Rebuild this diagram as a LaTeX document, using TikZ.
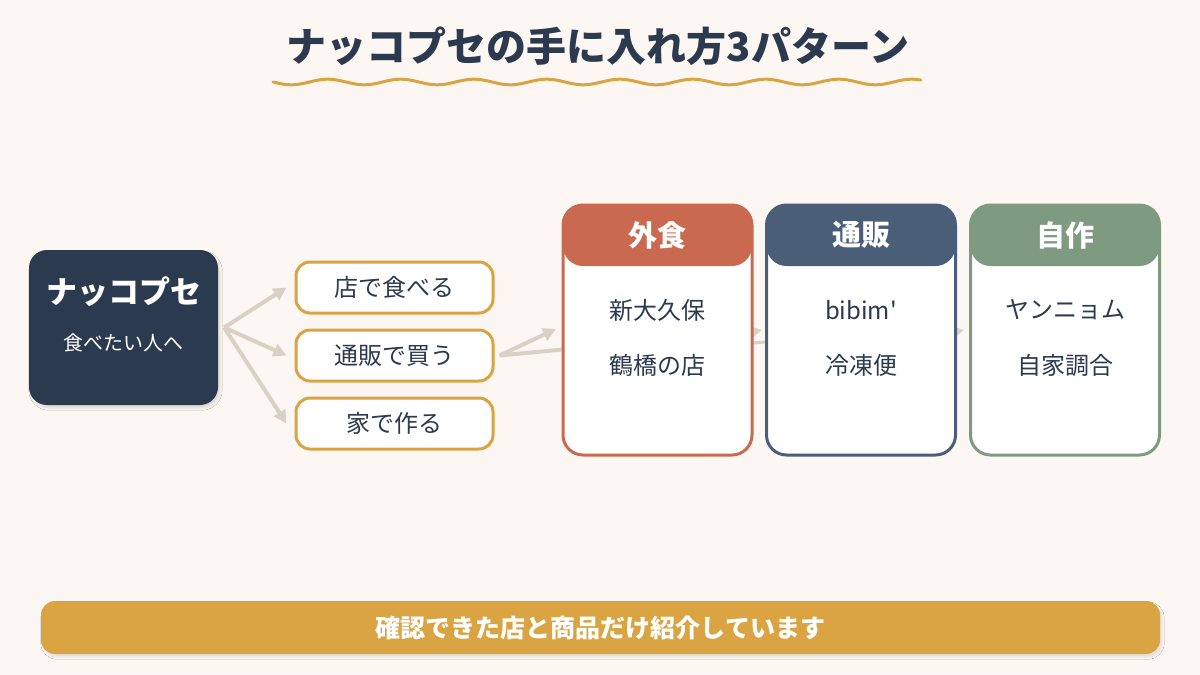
\documentclass[tikz,border=0pt]{standalone}
\usepackage{fontspec}
\setmainfont{Noto Sans CJK JP}
\newfontfamily\plainfont{Noto Sans CJK JP}
\usetikzlibrary{arrows.meta,shadows.blur}
\definecolor{bg}{HTML}{FCF7F3}
\definecolor{navy}{HTML}{2B3A4E}
\definecolor{gold}{HTML}{DAA442}
\definecolor{terra}{HTML}{C96A50}
\definecolor{slate}{HTML}{4A5E78}
\definecolor{sage}{HTML}{7E9A80}
\definecolor{arrowc}{HTML}{DAD1C6}
\tikzset{
  darkbox/.style={fill=navy, rounded corners=18pt, minimum width=189pt, minimum height=155pt, inner sep=0pt,
    blur shadow={shadow xshift=2pt, shadow yshift=-3pt, shadow opacity=12, shadow blur steps=5, shadow blur extra rounding=2pt}},
  optbox/.style={draw=gold, line width=3pt, fill=white, rounded corners=14pt, minimum width=197pt, minimum height=51pt,
    inner sep=0pt, text=navy, font=\fontsize{24}{28}\selectfont},
  card/.style={draw=#1, line width=3pt, fill=white, rounded corners=20pt, minimum width=189pt, minimum height=250pt, inner sep=0pt,
    path picture={\fill[#1] (path picture bounding box.north west) rectangle ([yshift=-61pt]path picture bounding box.north east);}},
  hdr/.style={text=white, font=\fontsize{29}{32}\selectfont\bfseries},
  body/.style={text=navy, font=\fontsize{24}{28}\selectfont},
  arr/.style={draw=arrowc, line width=4pt, -{Triangle[length=13pt,width=13pt]}},
  conn/.style={draw=arrowc, line width=4pt},
  banner/.style={fill=gold, rounded corners=14pt, minimum width=1119pt, minimum height=53pt, inner sep=0pt,
    text=white, font=\fontsize{25}{28}\selectfont\bfseries,
    blur shadow={shadow xshift=2pt, shadow yshift=-3pt, shadow opacity=10, shadow blur steps=5, shadow blur extra rounding=2pt}}
}
\begin{document}
\begin{tikzpicture}[x=1pt,y=-1pt]
\fill[bg] (0,0) rectangle (1200,675);
\useasboundingbox (0,0) rectangle (1200,675);

% title
\node[text=navy, font=\fontsize{40}{44}\selectfont\bfseries] (title) at (598,46) {ナッコプセの手に入れ方3パターン};
\draw[gold, line width=3pt, line cap=round, domain=273:921, samples=220, smooth]
  plot (\x, {82+2.8*sin((\x-273)/73*360)});

% source box
\node[darkbox] (src) at (123.5,327.5) {};
\node[text=white, font=\fontsize{31}{34}\selectfont\bfseries] (srct) at (123.5,292) {ナッコプセ};
\node[text=white, font=\fontsize{20}{24}\selectfont] (srcs) at (123.5,343) {食べたい人へ};

% option boxes
\node[optbox] (o1) at (394.5,287.5) {店で食べる};
\node[optbox] (o2) at (394.5,355.5) {通販で買う};
\node[optbox] (o3) at (394.5,423.5) {家で作る};

\coordinate (s0) at ([xshift=6pt]src.east);
\draw[arr] (s0) -- ([xshift=-8pt]o1.west);
\draw[arr] (s0) -- ([xshift=-8pt]o2.west);
\draw[arr] (s0) -- ([xshift=-8pt]o3.west);

% connectors behind cards
\coordinate (b0) at ([xshift=5pt]o2.east);
\coordinate (b1) at (556,329);
\coordinate (b2) at (600,346);
\draw[arr] (b0) -- (b1);
\draw[conn] (b0) -- (b2);
\coordinate (g1) at (740,344);
\coordinate (g2) at (790,340);
\coordinate (g3) at (740,334);
\coordinate (g4) at (762,330);
\coordinate (g5) at (944,334);
\coordinate (g6) at (964,330);
\draw[conn, line width=3pt] (g1) -- (g2);
\draw[arr, line width=3pt] (g3) -- (g4);
\draw[arr, line width=3pt] (g5) -- (g6);

% cards
\node[card=terra] (c1) at (657.5,330) {};
\node[card=slate] (c2) at (861,330) {};
\node[card=sage] (c3) at (1065,330) {};

\node[hdr] (h1) at (657.5,235) {外食};
\node[hdr] (h2) at (861,235) {通販};
\node[hdr] (h3) at (1065,235) {自作};

\node[body] (c1a) at (657.5,310) {新大久保};
\node[body] (c1b) at (657.5,365) {鶴橋の店};
\node[body] (c2a) at (861,310) {\plainfont bibim'};
\node[body] (c2b) at (861,365) {冷凍便};
\node[body] (c3a) at (1065,310) {ヤンニョム};
\node[body] (c3b) at (1065,365) {自家調合};

% banner
\node[banner] (note) at (600.5,627.5) {確認できた店と商品だけ紹介しています};
\end{tikzpicture}
\end{document}
